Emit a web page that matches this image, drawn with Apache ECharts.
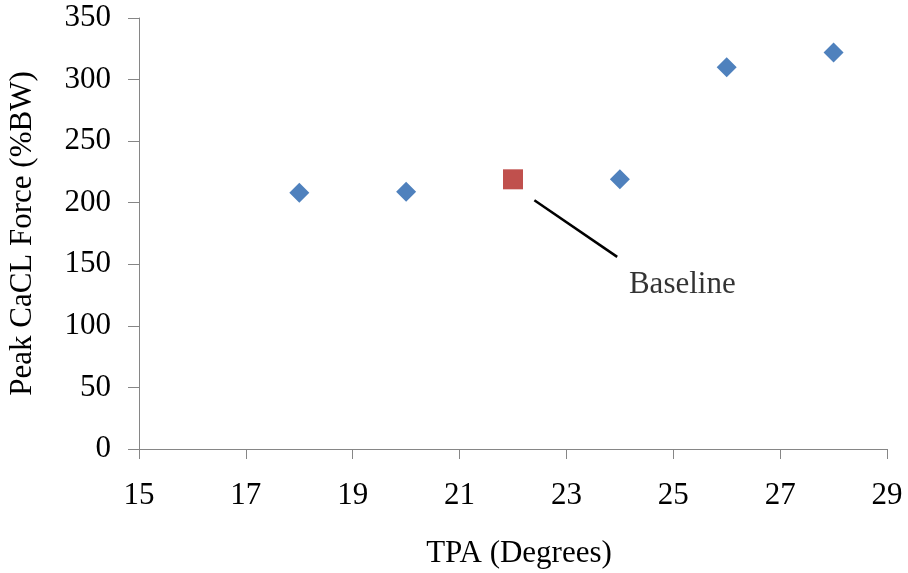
<!DOCTYPE html>
<html><head><meta charset="utf-8">
<script src="https://cdn.jsdelivr.net/npm/echarts@6/dist/echarts.min.js"></script>
<style>html,body{margin:0;padding:0;background:#fff}#c{width:908px;height:573px}</style>
</head><body><div id="c"></div>
<script>
const tpaValues = [18, 20, 24, 26, 28];
const forceValues = [208, 209, 219, 310, 322];
const baselineTpa = [22];
const baselineForce = [219];
const annotationText = 'Baseline';
const annotationLine = [[22.4, 202], [23.95, 156]];
const annotationLabelPos = [24.17, 133];
const xTitle = 'TPA (Degrees)';
const yTitle = 'Peak CaCL Force (%BW)';

const font = 'Liberation Serif, Times New Roman, serif';
const chart = echarts.init(document.getElementById('c'));
chart.setOption({
  animation: false,
  grid: {left: 139, right: 21, top: 18, bottom: 124, containLabel: false, outerBoundsMode: 'none'},
  xAxis: {
    type: 'value', min: 15, max: 29, interval: 2,
    name: xTitle, nameLocation: 'middle', nameGap: 89,
    nameTextStyle: {fontFamily: font, fontSize: 31, color: '#000', padding: [0, 0, 0, 12]},
    axisLine: {lineStyle: {color: '#868686', width: 1}},
    axisTick: {show: true, length: 10, lineStyle: {color: '#868686'}},
    axisLabel: {fontFamily: font, fontSize: 31, color: '#000', margin: 31},
    splitLine: {show: false}
  },
  yAxis: {
    type: 'value', min: 0, max: 350, interval: 50,
    name: yTitle, nameLocation: 'middle', nameGap: 101, nameRotate: 90,
    nameTextStyle: {fontFamily: font, fontSize: 31, color: '#000'},
    axisLine: {show: true, lineStyle: {color: '#868686', width: 1}},
    axisTick: {show: true, length: 11, lineStyle: {color: '#868686'}},
    axisLabel: {fontFamily: font, fontSize: 31, color: '#000', margin: 28},
    splitLine: {show: false}
  },
  series: [
    {
      type: 'scatter', symbol: 'diamond', symbolSize: 20,
      itemStyle: {color: '#4F81BD', opacity: 1},
      data: tpaValues.map((x, i) => [x, forceValues[i]])
    },
    {
      type: 'scatter', symbol: 'rect', symbolSize: 20,
      itemStyle: {color: '#C0504D', opacity: 1},
      data: baselineTpa.map((x, i) => [x, baselineForce[i]]),
      markLine: {
        silent: true, symbol: 'none', label: {show: false},
        lineStyle: {color: '#000', width: 2.5, type: 'solid'},
        data: [[{coord: annotationLine[0]}, {coord: annotationLine[1]}]]
      }
    },
    {
      type: 'scatter', symbolSize: 0, silent: true,
      data: [annotationLabelPos],
      label: {show: true, position: 'right', distance: 0, formatter: annotationText,
        fontFamily: font, fontSize: 31, color: '#000'}
    }
  ]
});
</script></body></html>
